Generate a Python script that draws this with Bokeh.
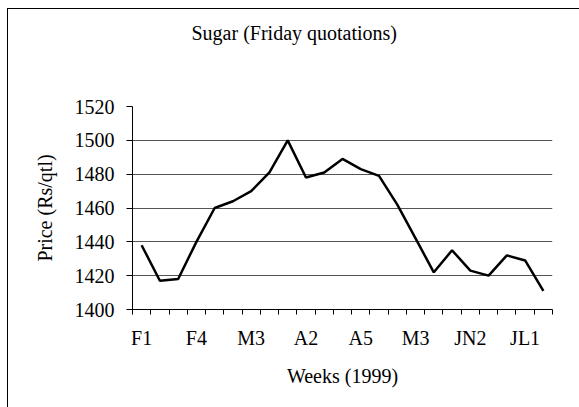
from bokeh.plotting import figure
from bokeh.models import FixedTicker, Range1d, InlineStyleSheet, LinearAxis
from bokeh.embed import file_html
from bokeh.resources import INLINE

weeks = ["F1", "F2", "F3", "F4", "M1", "M2", "M3", "M4",
         "A1", "A2", "A3", "A4", "A5",
         "M1", "M2", "M3", "M4", "JN1", "JN2", "JN3", "JN4", "JL1", "JL2"]
prices = [1438, 1417, 1418, 1440, 1460, 1464, 1470, 1481, 1500, 1478, 1481, 1489,
          1483, 1479, 1462, 1442, 1422, 1435, 1423, 1420, 1432, 1429, 1411]
y_ticks = [1400, 1420, 1440, 1460, 1480, 1500, 1520]
title_text = "Sugar (Friday quotations)"
x_title = "Weeks (1999)"
y_title = "Price (Rs/qtl)"

FONT = "Liberation Serif"
FS = "20px"

xs = list(range(1, len(weeks) + 1))
n = len(weeks)

p = figure(width=579, height=407, output_backend="svg", toolbar_location=None,
           x_range=Range1d(0.5, n + 0.5), y_range=Range1d(y_ticks[0], y_ticks[-1]),
           min_border_left=132, min_border_right=27, min_border_top=106, min_border_bottom=98)
p.outline_line_color = None
p.background_fill_color = "white"

# outer chart border (left and top edges visible in the window)
p.stylesheets = [InlineStyleSheet(css=(
    ":host::after { content: ''; position: absolute; left: 7px; top: 8px; right: 0px; bottom: 0px;"
    " border-left: 1px solid #000; border-top: 1px solid #000; pointer-events: none; z-index: 100; }"
))]

p.title.text = title_text
p.title.align = "left"
p.title.offset = 59
p.title.standoff = 10
p.title.text_font = FONT
p.title.text_font_size = FS
p.title.text_font_style = "normal"
p.title.text_color = "black"

# invisible spacer between the plot area and the title (one hidden tick)
spacer = LinearAxis(ticker=FixedTicker(ticks=[xs[0]], minor_ticks=[]), major_tick_out=58,
                    major_tick_in=0, minor_tick_out=0, axis_line_color=None,
                    major_tick_line_color=None, minor_tick_line_color=None,
                    major_label_text_font_size="0px")
p.above.insert(0, spacer)

p.line(xs, prices, line_color="black", line_width=2.5)

label_idx = list(range(0, n, 3))
xa = p.below[0]
xa.ticker = FixedTicker(ticks=[xs[i] for i in label_idx],
                        minor_ticks=[i + 0.5 for i in range(n + 1)])
xa.major_label_overrides = {xs[i]: weeks[i] for i in label_idx}
xa.major_tick_out = 0
xa.major_tick_in = 0
xa.minor_tick_out = 5
xa.minor_tick_in = 0
xa.minor_tick_line_color = "black"
xa.major_label_standoff = 12
xa.axis_label = x_title
xa.axis_label_standoff = 13

ya = p.left[0]
ya.ticker = FixedTicker(ticks=y_ticks)
ya.minor_tick_line_color = None
ya.major_tick_out = 6
ya.major_tick_in = 0
ya.major_label_standoff = 12
ya.axis_label = y_title
ya.axis_label_standoff = 16

for ax in (xa, ya):
    ax.axis_line_color = "black"
    ax.major_tick_line_color = "black"
    ax.major_label_text_font = FONT
    ax.major_label_text_font_size = FS
    ax.major_label_text_color = "black"
    ax.axis_label_text_font = FONT
    ax.axis_label_text_font_size = FS
    ax.axis_label_text_font_style = "normal"
    ax.axis_label_text_color = "black"

p.xgrid.grid_line_color = None
p.ygrid.grid_line_color = "#555555"
p.ygrid.grid_line_width = 1

open("out.html", "w").write(file_html(p, INLINE))
